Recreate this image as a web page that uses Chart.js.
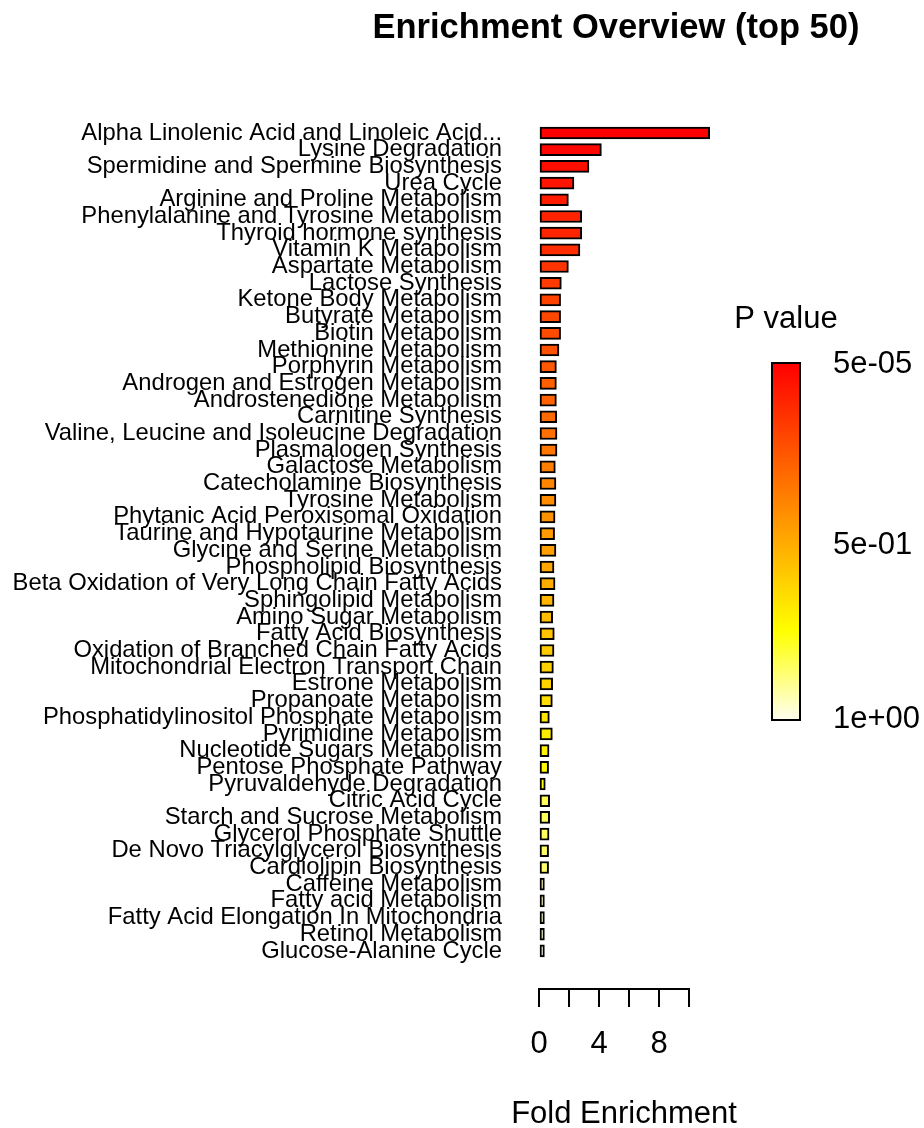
<!DOCTYPE html>
<html><head><meta charset="utf-8">
<script src="https://cdn.jsdelivr.net/npm/chart.js@4"></script>
<style>html,body{margin:0;padding:0;background:#fff}canvas{display:block}</style>
</head><body>
<canvas id="c" width="924" height="1128"></canvas>
<script>
const categories = [
  'Alpha Linolenic Acid and Linoleic Acid...',
  'Lysine Degradation',
  'Spermidine and Spermine Biosynthesis',
  'Urea Cycle',
  'Arginine and Proline Metabolism',
  'Phenylalanine and Tyrosine Metabolism',
  'Thyroid hormone synthesis',
  'Vitamin K Metabolism',
  'Aspartate Metabolism',
  'Lactose Synthesis',
  'Ketone Body Metabolism',
  'Butyrate Metabolism',
  'Biotin Metabolism',
  'Methionine Metabolism',
  'Porphyrin Metabolism',
  'Androgen and Estrogen Metabolism',
  'Androstenedione Metabolism',
  'Carnitine Synthesis',
  'Valine, Leucine and Isoleucine Degradation',
  'Plasmalogen Synthesis',
  'Galactose Metabolism',
  'Catecholamine Biosynthesis',
  'Tyrosine Metabolism',
  'Phytanic Acid Peroxisomal Oxidation',
  'Taurine and Hypotaurine Metabolism',
  'Glycine and Serine Metabolism',
  'Phospholipid Biosynthesis',
  'Beta Oxidation of Very Long Chain Fatty Acids',
  'Sphingolipid Metabolism',
  'Amino Sugar Metabolism',
  'Fatty Acid Biosynthesis',
  'Oxidation of Branched Chain Fatty Acids',
  'Mitochondrial Electron Transport Chain',
  'Estrone Metabolism',
  'Propanoate Metabolism',
  'Phosphatidylinositol Phosphate Metabolism',
  'Pyrimidine Metabolism',
  'Nucleotide Sugars Metabolism',
  'Pentose Phosphate Pathway',
  'Pyruvaldehyde Degradation',
  'Citric Acid Cycle',
  'Starch and Sucrose Metabolism',
  'Glycerol Phosphate Shuttle',
  'De Novo Triacylglycerol Biosynthesis',
  'Cardiolipin Biosynthesis',
  'Caffeine Metabolism',
  'Fatty acid Metabolism',
  'Fatty Acid Elongation In Mitochondria',
  'Retinol Metabolism',
  'Glucose-Alanine Cycle'
];
const foldEnrichment = [
  11.38, 4.16, 3.33, 2.33, 1.96, 2.85, 2.85, 2.73, 1.96, 1.49,
  1.44, 1.44, 1.44, 1.33, 1.16, 1.16, 1.16, 1.18, 1.20, 1.20,
  1.09, 1.13, 1.13, 1.07, 1.04, 1.13, 1.00, 1.07, 1.00, 0.91,
  1.02, 1.00, 0.96, 0.91, 0.89, 0.69, 0.89, 0.67, 0.64, 0.42,
  0.71, 0.71, 0.67, 0.64, 0.64, 0.36, 0.36, 0.36, 0.36, 0.36
];
const pValues = [
  0.00005, 0.02, 0.04, 0.06, 0.08, 0.10, 0.11, 0.13, 0.15, 0.17,
  0.19, 0.21, 0.22, 0.24, 0.26, 0.28, 0.29, 0.31, 0.33, 0.35,
  0.37, 0.39, 0.41, 0.43, 0.45, 0.47, 0.49, 0.51, 0.53, 0.55,
  0.57, 0.59, 0.61, 0.63, 0.65, 0.67, 0.69, 0.71, 0.73, 0.75,
  0.84, 0.845, 0.85, 0.855, 0.86, 0.94, 0.95, 0.96, 0.97, 1.0
];
const xTicks = [0, 2, 4, 6, 8, 10];
const xTickLabels = ['0', '4', '8'];
const legendLabels = ['5e-05', '5e-01', '1e+00'];
const legendValues = [0.00005, 0.5, 1.0];

const FONT = '"Liberation Sans", Arial, sans-serif';

function heat(p) {
  if (p < 0.75) {
    const g = Math.round(255 * p / 0.75);
    return `rgb(255,${g},0)`;
  }
  const b = Math.round(255 * Math.min(1, (p - 0.75) / 0.25) * 0.94);
  return `rgb(255,255,${b})`;
}

const overlay = {
  id: 'overlay',
  afterDraw(chart) {
    const ctx = chart.ctx;
    const area = chart.chartArea;
    ctx.save();
    ctx.fillStyle = '#000';
    // title
    ctx.font = `bold 34.5px ${FONT}`;
    ctx.textAlign = 'center';
    ctx.textBaseline = 'alphabetic';
    ctx.fillText('Enrichment Overview (top 50)', 616, 38);
    // x axis title
    ctx.font = `31px ${FONT}`;
    ctx.fillText('Fold Enrichment', (area.left + area.right) / 2 + 10, 1123);
    // colour legend
    const lx = 772, lw = 28, top = 363, bot = 720;
    const grad = ctx.createLinearGradient(0, top, 0, bot);
    [0, 0.25, 0.5, 0.75, 0.8, 0.85, 0.9, 0.95, 1].forEach(s => grad.addColorStop(s, heat(s)));
    ctx.fillStyle = grad;
    ctx.fillRect(lx, top, lw, bot - top);
    ctx.strokeStyle = '#000';
    ctx.lineWidth = 2;
    ctx.strokeRect(lx, top, lw, bot - top);
    ctx.fillStyle = '#000';
    ctx.font = `31px ${FONT}`;
    ctx.textAlign = 'center';
    ctx.fillText('P value', 786, 328);
    ctx.textAlign = 'left';
    ctx.textBaseline = 'middle';
    legendLabels.forEach((t, i) => {
      const y = top + (bot - top) * legendValues[i] + (i === 0 ? 1 : i === 1 ? 4 : -1);
      ctx.fillText(t, 833, y);
    });
    ctx.restore();
  }
};

new Chart(document.getElementById('c'), {
  type: 'bar',
  data: {
    datasets: [{
      data: foldEnrichment.map((v, i) => ({ x: v, y: i + 1 })),
      backgroundColor: pValues.map(heat),
      borderColor: '#000',
      borderWidth: 2,
      borderSkipped: false,
      barThickness: 12,
      clip: false
    }]
  },
  options: {
    indexAxis: 'y',
    responsive: false,
    animation: false,
    events: [],
    layout: { padding: { top: 124.65, right: 235, bottom: 0, left: 0 } },
    plugins: { legend: { display: false }, tooltip: { enabled: false }, title: { display: false } },
    scales: {
      y: {
        type: 'linear',
        bounds: 'data',
        offset: false,
        reverse: true,
        min: 0.5,
        max: 52.28,
        grid: { display: false, offset: false },
        border: { display: false },
        afterFit(scale) { scale.width = 539; },
        afterBuildTicks(scale) { scale.ticks = categories.map((c, i) => ({ value: i + 1 })); },
        ticks: {
          autoSkip: false,
          padding: 29,
          color: '#000',
          font: { family: FONT, size: 23.8 },
          callback: v => (Number.isInteger(v) && v >= 1 && v <= categories.length) ? categories[v - 1] : ''
        }
      },
      x: {
        type: 'linear',
        bounds: 'data',
        offset: false,
        min: xTicks[0],
        max: xTicks[xTicks.length - 1],
        afterFit(scale) { scale.height = 139; },
        afterBuildTicks(scale) { scale.ticks = xTicks.map(v => ({ value: v })); },
        grid: { drawOnChartArea: false, drawTicks: true, tickLength: 18, color: '#000', lineWidth: 2 },
        border: { display: true, color: '#000', width: 2 },
        ticks: {
          autoSkip: false,
          maxRotation: 0,
          padding: 18.4,
          color: '#000',
          font: { family: FONT, size: 31 },
          callback: v => xTickLabels.includes(String(v)) ? String(v) : ''
        },
        title: { display: false }
      }
    }
  },
  plugins: [overlay]
});
</script>
</body></html>
